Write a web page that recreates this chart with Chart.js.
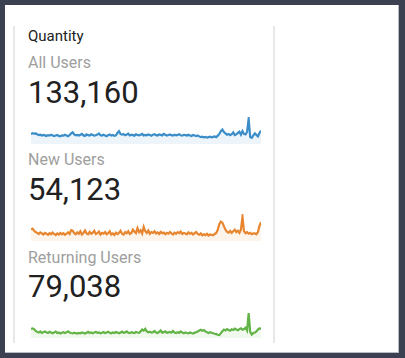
<!DOCTYPE html>
<html>
<head>
<meta charset="utf-8">
<script src="https://cdn.jsdelivr.net/npm/chart.js@4.4.1/dist/chart.umd.min.js"></script>
<style>
  html, body { margin: 0; padding: 0; }
  body { width: 405px; height: 358px; background: #3b4150; position: relative; overflow: hidden; font-family: Roboto, "Noto Sans", sans-serif; }
  #panel { position: absolute; left: 5px; top: 5px; width: 394px; height: 348px; background: #fff; box-sizing: border-box; border-right: 1px solid #b9bcc2; border-bottom: 1px solid #b9bcc2; }
  .vline { position: absolute; top: 26px; width: 2px; height: 317px; background: #e8e8e8; }
  .t { position: absolute; left: 28px; line-height: 1; white-space: nowrap; }
  .head { font-size: 15px; color: #212121; font-weight: 400; }
  .lab { font-size: 16px; color: #9e9e9e; }
  .num { font-size: 31px; color: #212121; font-weight: 400; }
  canvas { position: absolute; left: 31px; }
</style>
</head>
<body>
<div id="panel"></div>
<div class="vline" style="left:13px"></div>
<div class="vline" style="left:273px"></div>
<div id="texts"></div>
<canvas id="c0" width="230" height="27" style="top:117px"></canvas>
<canvas id="c1" width="230" height="27" style="top:214px"></canvas>
<canvas id="c2" width="230" height="27" style="top:311px"></canvas>
<script>
const title = "Quantity";
const seriesNames = ["All Users", "New Users", "Returning Users"];
const totals = ["133,160", "54,123", "79,038"];
const colors = ["#3a8dc9", "#e8862f", "#62b446"];
const fills = ["rgba(58,141,201,0.09)", "rgba(232,134,47,0.09)", "rgba(98,180,70,0.09)"];
const yMax = [2200, 1000, 2300];

const allUsers = [
  820, 880, 840, 860, 790, 720, 760, 690, 740, 700,
  650, 720, 680, 760, 700, 640, 690, 730, 660, 620,
  700, 680, 750, 690, 640, 720, 860, 950, 780, 700,
  740, 690, 760, 820, 700, 660, 780, 720, 690, 800,
  740, 680, 710, 770, 860, 720, 690, 750, 700, 640,
  720, 780, 690, 730, 660, 710, 900, 1050, 820, 760,
  800, 720, 770, 840, 700, 760, 720, 680, 790, 740,
  700, 760, 820, 690, 740, 710, 780, 730, 680, 760,
  800, 720, 690, 770, 740, 700, 820, 760, 690, 730,
  780, 720, 680, 760, 700, 740, 800, 710, 680, 750,
  720, 690, 760, 700, 650, 730, 690, 640, 700, 620,
  560, 600, 540, 580, 520, 560, 600, 540, 580, 620,
  560, 680, 820, 1050, 1180, 980, 860, 760, 820, 720,
  800, 940, 720, 780, 900, 1000, 760, 1060, 820, 780,
  1000, 2050, 560, 500, 700, 860, 740, 620, 900, 1080
];
const newUsers = [
  430, 460, 380, 330, 300, 260, 320, 280, 240, 300,
  270, 230, 290, 250, 310, 260, 220, 280, 240, 300,
  250, 290, 230, 270, 320, 260, 400, 380, 290, 250,
  320, 270, 360, 240, 300, 390, 280, 250, 340, 270,
  310, 380, 260, 290, 350, 240, 300, 270, 330, 250,
  290, 360, 240, 280, 220, 310, 260, 300, 380, 270,
  240, 330, 290, 360, 260, 300, 420, 350, 290, 480,
  330, 400, 280, 520, 360, 300, 390, 270, 330, 300,
  360, 280, 320, 260, 340, 290, 310, 250, 300, 270,
  330, 280, 240, 310, 270, 330, 290, 350, 260, 300,
  280, 250, 320, 270, 300, 240, 290, 330, 260, 230,
  280, 210, 250, 220, 270, 200, 240, 230, 210, 260,
  300, 420, 620, 720, 680, 540, 420, 340, 310, 370,
  300, 360, 420, 330, 380, 300, 420, 900, 360, 290,
  330, 270, 300, 250, 280, 280, 250, 330, 560, 700
];
const returningUsers = [
  780, 820, 760, 600, 520, 460, 560, 430, 500, 560,
  480, 420, 520, 460, 400, 480, 540, 430, 470, 390,
  450, 500, 420, 480, 560, 470, 420, 390, 460, 410,
  380, 440, 400, 470, 420, 380, 450, 520, 430, 470,
  400, 460, 530, 440, 480, 400, 450, 510, 420, 470,
  540, 450, 400, 480, 430, 510, 460, 400, 470, 540,
  440, 480, 560, 450, 420, 500, 460, 430, 520, 470,
  440, 560, 720, 640, 780, 560, 480, 540, 460, 500,
  600, 470, 430, 520, 640, 460, 500, 560, 440, 480,
  520, 450, 600, 470, 420, 500, 440, 560, 460, 410,
  480, 430, 400, 470, 420, 380, 450, 500, 560, 640,
  700, 620, 680, 560, 480, 430, 500, 440, 400, 360,
  330, 280, 250, 420, 580, 720, 640, 760, 680, 620,
  740, 680, 800, 720, 660, 760, 820, 700, 760, 880,
  640, 2130, 520, 300, 420, 460, 560, 720, 820, 760
];
const series = [allUsers, newUsers, returningUsers];
const days = allUsers.map((_, i) => "Day " + (i + 1));

// text blocks
const texts = document.getElementById("texts");
function addText(cls, str, top) {
  const d = document.createElement("div");
  d.className = "t " + cls;
  d.style.top = top + "px";
  d.textContent = str;
  texts.appendChild(d);
}
addText("head", title, 28.5);
const labelTops = [54.5, 152, 249.5];
const numTops = [77, 174, 271];
seriesNames.forEach((n, k) => {
  addText("lab", n, labelTops[k]);
  addText("num", totals[k], numTops[k]);
});

series.forEach((data, k) => {
  new Chart(document.getElementById("c" + k), {
    type: "line",
    data: {
      labels: days,
      datasets: [{
        data: data,
        borderColor: colors[k],
        backgroundColor: fills[k],
        borderWidth: 2.2,
        fill: "origin",
        tension: 0,
        pointRadius: 0
      }]
    },
    options: {
      responsive: false,
      animation: false,
      layout: { padding: 0 },
      plugins: { legend: { display: false }, tooltip: { enabled: false } },
      scales: {
        x: { display: false },
        y: { display: false, min: 0, max: yMax[k] }
      }
    }
  });
});
</script>
</body>
</html>
